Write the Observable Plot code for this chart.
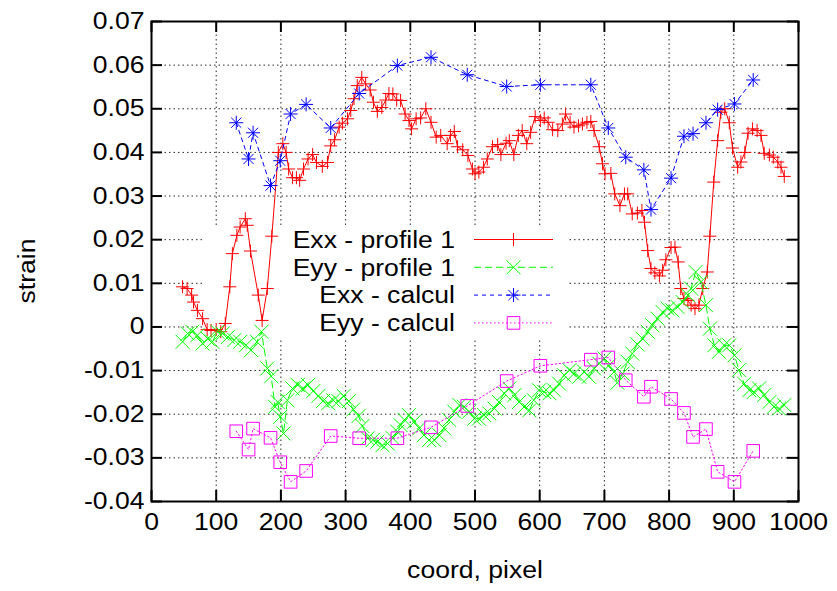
<!DOCTYPE html>
<html><head><meta charset="utf-8">
<script src="https://cdn.jsdelivr.net/npm/d3@7"></script>
<script src="https://cdn.jsdelivr.net/npm/@observablehq/plot@0.6"></script>
<style>body{margin:0;background:#fff} svg{display:block}</style>
</head><body><div id="chart"></div>
<script>
// ---- data ----
const exxProfileX = [48,55,62,65,71,79,86,92,100,107,114,121,125,132,137,145,148,153,165,171,179,186,196,203,208,212,218,224,229,235,242,249,255,264,272,277,283,290,295,303,308,313,318,325,331,338,343,349,356,362,367,373,379,385,392,398,402,409,416,424,432,440,447,457,462,468,473,481,489,496,500,506,513,519,527,535,540,548,553,560,567,573,580,586,593,601,607,613,620,628,635,640,647,653,660,666,673,679,684,692,697,701,710,716,724,731,736,743,751,758,762,767,772,778,785,790,795,803,809,814,818,823,829,834,840,846,852,859,863,869,875,880,886,893,898,906,911,917,922,929,936,942,947,955,961,968,973,978];
const exxProfile = [0.0092,0.0088,0.0073,0.0057,0.0038,0.0019,-0.0006,-0.0008,-0.0006,-0.0011,0.0008,0.0092,0.0168,0.0210,0.0229,0.0248,0.0233,0.0174,0.0073,0.0015,0.0088,0.0208,0.0400,0.0420,0.0400,0.0362,0.0342,0.0342,0.0336,0.0362,0.0385,0.0395,0.0377,0.0368,0.0377,0.0415,0.0429,0.0458,0.0467,0.0477,0.0496,0.0523,0.0553,0.0572,0.0557,0.0543,0.0515,0.0494,0.0503,0.0520,0.0535,0.0534,0.0520,0.0519,0.0488,0.0473,0.0454,0.0477,0.0479,0.0500,0.0469,0.0435,0.0439,0.0420,0.0439,0.0448,0.0413,0.0406,0.0393,0.0362,0.0351,0.0355,0.0366,0.0385,0.0413,0.0418,0.0395,0.0421,0.0427,0.0395,0.0439,0.0450,0.0420,0.0446,0.0482,0.0473,0.0479,0.0469,0.0452,0.0450,0.0465,0.0488,0.0469,0.0458,0.0461,0.0465,0.0469,0.0471,0.0450,0.0413,0.0374,0.0351,0.0352,0.0305,0.0278,0.0305,0.0305,0.0259,0.0261,0.0267,0.0240,0.0175,0.0134,0.0124,0.0117,0.0130,0.0154,0.0182,0.0183,0.0149,0.0088,0.0065,0.0061,0.0050,0.0042,0.0050,0.0088,0.0126,0.0208,0.0332,0.0427,0.0492,0.0500,0.0468,0.0410,0.0366,0.0378,0.0400,0.0444,0.0454,0.0450,0.0439,0.0398,0.0394,0.0389,0.0378,0.0366,0.0345];

const eyyProfileX = [48,56,63,71,79,87,94,102,110,118,128,137,146,154,163,170,179,185,191,195,199,204,210,218,226,234,242,250,258,265,273,281,289,297,305,312,320,326,334,342,349,357,365,373,380,385,391,398,406,414,421,429,437,445,452,460,468,476,483,491,499,506,514,522,530,537,545,553,561,568,576,584,591,599,607,615,622,630,638,646,653,661,669,676,684,692,700,707,715,720,728,736,743,751,759,767,774,782,790,798,805,813,821,829,834,841,849,857,863,870,877,885,893,901,908,916,924,931,939,947,955,962,970,978];
const eyyProfile = [-0.0034,-0.0015,-0.0011,-0.0019,-0.0038,-0.0027,-0.0034,-0.0011,-0.0015,-0.0023,-0.0030,-0.0034,-0.0042,-0.0053,-0.0034,-0.0011,-0.0095,-0.0113,-0.0183,-0.0172,-0.0206,-0.0244,-0.0168,-0.0141,-0.0133,-0.0141,-0.0133,-0.0147,-0.0158,-0.0170,-0.0175,-0.0168,-0.0170,-0.0158,-0.0170,-0.0189,-0.0204,-0.0227,-0.0255,-0.0259,-0.0263,-0.0271,-0.0267,-0.0255,-0.0240,-0.0225,-0.0213,-0.0202,-0.0217,-0.0232,-0.0248,-0.0259,-0.0259,-0.0248,-0.0232,-0.0213,-0.0194,-0.0179,-0.0183,-0.0194,-0.0210,-0.0210,-0.0202,-0.0198,-0.0187,-0.0172,-0.0152,-0.0141,-0.0156,-0.0172,-0.0183,-0.0191,-0.0168,-0.0145,-0.0149,-0.0152,-0.0145,-0.0130,-0.0111,-0.0099,-0.0107,-0.0114,-0.0103,-0.0114,-0.0095,-0.0084,-0.0072,-0.0088,-0.0103,-0.0128,-0.0107,-0.0080,-0.0061,-0.0040,-0.0027,-0.0011,0.0004,0.0019,0.0034,0.0042,0.0038,0.0046,0.0057,0.0073,0.0088,0.0126,0.0103,0.0050,-0.0004,-0.0042,-0.0057,-0.0042,-0.0042,-0.0065,-0.0099,-0.0130,-0.0145,-0.0149,-0.0141,-0.0156,-0.0172,-0.0183,-0.0187,-0.0179];

const calcX = [131,150,157,184,199,215,239,277,321,380,432,488,549,601,679,706,733,761,772,803,823,837,857,875,901,930];
const exxCalc = [0.0468,0.0385,0.0445,0.0324,0.0381,0.0488,0.0510,0.0456,0.0535,0.0599,0.0618,0.0578,0.0551,0.0555,0.0555,0.0456,0.0389,0.0360,0.0269,0.0341,0.0437,0.0443,0.0468,0.0498,0.0511,0.0566];
const eyyCalc = [-0.0239,-0.0281,-0.0233,-0.0254,-0.0310,-0.0355,-0.0330,-0.0250,-0.0255,-0.0255,-0.0230,-0.0181,-0.0124,-0.0089,-0.0075,-0.0070,-0.0122,-0.0160,-0.0137,-0.0165,-0.0197,-0.0252,-0.0234,-0.0332,-0.0355,-0.0284];

const seriesNames = ["Exx - profile 1", "Eyy - profile 1", "Exx - calcul", "Eyy - calcul"];
const xTicks = [0,100,200,300,400,500,600,700,800,900,1000];
const xTickLabels = ["0","100","200","300","400","500","600","700","800","900","1000"];
const yTicks = [-0.04,-0.03,-0.02,-0.01,0,0.01,0.02,0.03,0.04,0.05,0.06,0.07];
const yTickLabels = ["-0.04","-0.03","-0.02","-0.01","0","0.01","0.02","0.03","0.04","0.05","0.06","0.07"];
const xLabel = "coord, pixel";
const yLabel = "strain";

// ---- styles ----
const FONT = "Liberation Sans, Arial, sans-serif";
const FS = 23.5;
const STRETCH = 1.13;
const colors = ["#ff0000", "#00ff00", "#0000ff", "#ff00ff"];
const dashes = [null, "7,4", "4,4", "1.5,2.5"];

const rOf = s => Math.sqrt(s / Math.PI);
const symPlus = {draw(c, s) {const r = rOf(s); c.moveTo(-r,0); c.lineTo(r,0); c.moveTo(0,-r); c.lineTo(0,r);}};
const symTimes = {draw(c, s) {const r = rOf(s); c.moveTo(-r,-r); c.lineTo(r,r); c.moveTo(-r,r); c.lineTo(r,-r);}};
const symStar = {draw(c, s) {const r = rOf(s), d = r*0.72; c.moveTo(-r,0); c.lineTo(r,0); c.moveTo(0,-r); c.lineTo(0,r); c.moveTo(-d,-d); c.lineTo(d,d); c.moveTo(-d,d); c.lineTo(d,-d);}};
const symSquare = {draw(c, s) {const r = rOf(s); c.moveTo(-r,-r); c.lineTo(r,-r); c.lineTo(r,r); c.lineTo(-r,r); c.closePath();}};
const symbols = [symPlus, symTimes, symStar, symSquare];
const radii = [6.5, 7, 7, 6.3];

const exxP = exxProfileX.map((x, i) => ({x, y: exxProfile[i]}));
const eyyP = eyyProfileX.map((x, i) => ({x, y: eyyProfile[i]}));
const exxC = calcX.map((x, i) => ({x, y: exxCalc[i]}));
const eyyC = calcX.map((x, i) => ({x, y: eyyCalc[i]}));
const series = [exxP, eyyP, exxC, eyyC];

const W = 837, H = 591, ML = 151, MR = 39, MT = 21, MB = 90;
const TICK = 11;
const fw = W - ML - MR, fh = H - MT - MB;

const dataMarks = [];
series.forEach((d, i) => {
  dataMarks.push(Plot.line(d, {x: "x", y: "y", stroke: colors[i], strokeWidth: 1, strokeDasharray: dashes[i]}));
  dataMarks.push(Plot.dot(d, {x: "x", y: "y", symbol: symbols[i], r: radii[i], stroke: colors[i], fill: "none", strokeWidth: 1}));
});

const svg = Plot.plot({
  width: W, height: H,
  marginLeft: ML, marginRight: MR, marginTop: MT, marginBottom: MB,
  style: {background: "#fff", fontFamily: FONT, fontSize: FS + "px", color: "#000"},
  x: {domain: [0, 1000], axis: null},
  y: {domain: [-0.04, 0.07], axis: null},
  marks: [
    Plot.ruleX(xTicks.slice(1, -1), {x: d => d, stroke: "#000", strokeWidth: 1, strokeDasharray: "1.5,3", strokeOpacity: 0.85}),
    Plot.ruleY(yTicks.slice(1, -1), {y: d => d, stroke: "#000", strokeWidth: 1, strokeDasharray: "1.5,3", strokeOpacity: 0.85}),
    Plot.tickX(xTicks, {x: d => d, insetTop: fh - TICK, stroke: "#000", strokeWidth: 2}),
    Plot.tickX(xTicks, {x: d => d, insetBottom: fh - TICK, stroke: "#000", strokeWidth: 2}),
    Plot.tickY(yTicks, {y: d => d, insetRight: fw - TICK, stroke: "#000", strokeWidth: 2}),
    Plot.tickY(yTicks, {y: d => d, insetLeft: fw - TICK, stroke: "#000", strokeWidth: 2}),
    ...dataMarks,
    Plot.frame({stroke: "#000", strokeWidth: 2}),
    Plot.text(xTicks, {x: d => d, text: (d, i) => xTickLabels[i], frameAnchor: "bottom", dy: 28, fontSize: FS, fill: "#000"}),
    Plot.text(yTicks, {y: d => d, text: (d, i) => yTickLabels[i], frameAnchor: "left", textAnchor: "end", dx: -7, fontSize: FS, fill: "#000"}),
    Plot.text([xLabel], {text: d => d, frameAnchor: "bottom", dy: 76, fontSize: FS, fill: "#000"})
  ]
});
document.getElementById("chart").appendChild(svg);

const s = d3.select(svg);
// y axis label
s.append("text").attr("transform", "translate(27,271) rotate(-90)").attr("text-anchor", "middle").attr("dy", "0.35em")
  .attr("font-family", FONT).attr("font-size", FS).attr("fill", "#000").text(yLabel);

// ---- legend (gnuplot key with opaque box) ----
const firstData = svg.querySelector('[aria-label="line"]');
s.insert("rect", () => firstData)
  .attr("x", 205).attr("y", 225).attr("width", 364).attr("height", 115).attr("fill", "#fff");
const key = s.append("g").attr("font-family", FONT).attr("font-size", FS);
seriesNames.forEach((name, i) => {
  const y = 239.5 + i * 27.8;
  key.append("text").attr("x", 455).attr("y", y).attr("dy", "0.35em").attr("text-anchor", "end").attr("fill", "#000").text(name);
  key.append("line").attr("x1", 474).attr("x2", 553).attr("y1", y).attr("y2", y)
    .attr("stroke", colors[i]).attr("stroke-width", 1).attr("stroke-dasharray", dashes[i]);
  key.append("path").attr("d", d3.symbol(symbols[i], Math.PI * radii[i] * radii[i])())
    .attr("transform", `translate(513.5,${y})`).attr("fill", "none").attr("stroke", colors[i]).attr("stroke-width", 1);
});

// widen all glyphs horizontally, as in the reference font
svg.querySelectorAll("text").forEach(t => {
  const w = t.getComputedTextLength();
  if (w > 0) {
    t.setAttribute("textLength", (w * STRETCH).toFixed(2));
    t.setAttribute("lengthAdjust", "spacingAndGlyphs");
  }
});
</script>
</body></html>
